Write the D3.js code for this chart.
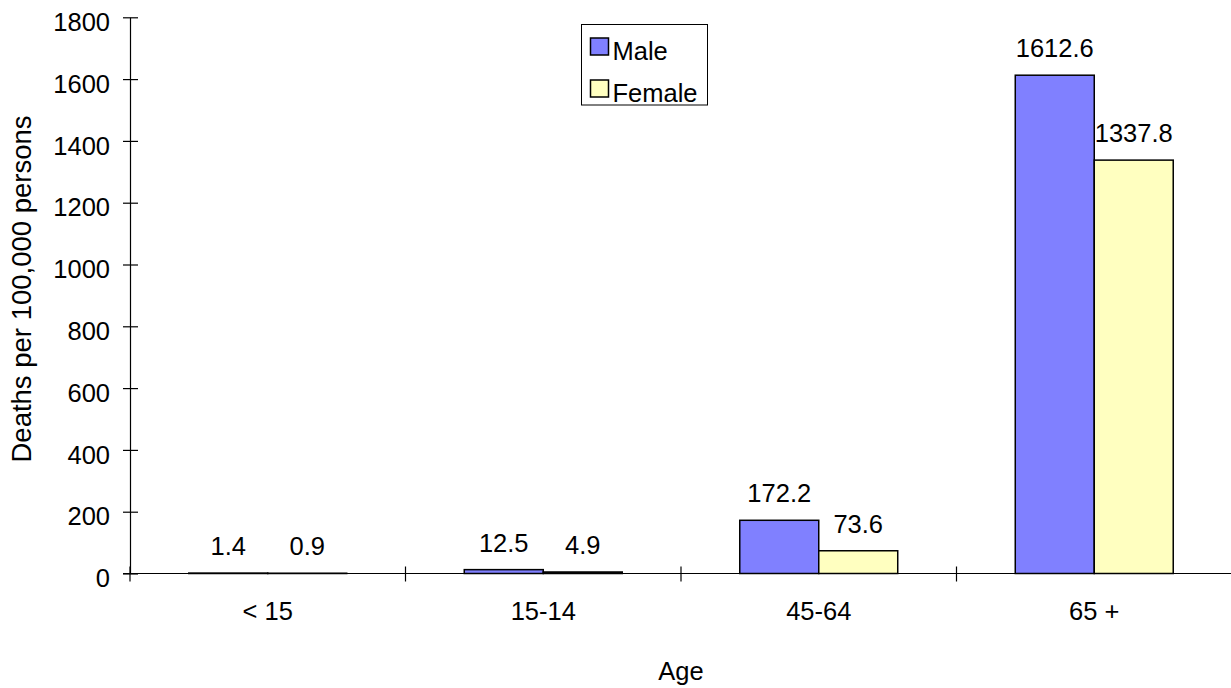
<!DOCTYPE html>
<html>
<head>
<meta charset="utf-8">
<script src="https://cdn.jsdelivr.net/npm/d3@7"></script>
<style>
  html, body { margin: 0; padding: 0; background: #fff; }
  svg { display: block; font-family: "Liberation Sans", Arial, sans-serif; }
</style>
</head>
<body>
<svg id="chart" width="1231" height="688"></svg>
<script>
// Death rates by age group and sex
const ageGroups = ["< 15", "15-14", "45-64", "65 +"];
const seriesNames = ["Male", "Female"];
const maleRates = [1.4, 12.5, 172.2, 1612.6];
const femaleRates = [0.9, 4.9, 73.6, 1337.8];
const yTicks = [0, 200, 400, 600, 800, 1000, 1200, 1400, 1600, 1800];
const seriesColors = ["#8080FF", "#FFFFC0"];

const rows = ageGroups.map((g, i) => ({ group: g, values: [maleRates[i], femaleRates[i]] }));

const svg = d3.select("#chart");
const fontSize = 25.5;
const plot = { left: 130, right: 1232, top: 17.3, bottom: 573.5 };

const x = d3.scaleBand().domain(ageGroups).range([plot.left, plot.right]).padding(0);
const xSub = d3.scaleBand().domain(seriesNames)
  .range([x.bandwidth() * 0.2133, x.bandwidth() * 0.7867]).padding(0);
const y = d3.scaleLinear().domain([0, 1800]).range([plot.bottom, plot.top]);

// Bars
const groups = svg.append("g").selectAll("g").data(rows).join("g")
  .attr("transform", d => `translate(${x(d.group)},0)`);

groups.selectAll("rect").data(d => d.values.map((v, k) => ({ name: seriesNames[k], value: v, k })))
  .join("rect")
  .attr("x", d => xSub(d.name))
  .attr("y", d => y(d.value))
  .attr("width", xSub.bandwidth())
  .attr("height", d => y(0) - y(d.value))
  .attr("fill", d => seriesColors[d.k])
  .attr("stroke", "#000")
  .attr("stroke-width", 1.5);

groups.selectAll("text.val").data(d => d.values.map((v, k) => ({ name: seriesNames[k], value: v })))
  .join("text")
  .attr("class", "val")
  .attr("x", d => xSub(d.name) + xSub.bandwidth() / 2)
  .attr("y", d => y(d.value) - 18)
  .attr("text-anchor", "middle")
  .attr("font-size", fontSize)
  .text(d => d.value.toFixed(1));

// Y axis
const yAxis = svg.append("g")
  .attr("transform", `translate(${plot.left},0)`)
  .call(d3.axisLeft(y).tickValues(yTicks).tickSize(0).tickPadding(20).tickFormat(d3.format("d")));
yAxis.select(".domain").attr("stroke", "#000").attr("stroke-width", 1.2);
yAxis.selectAll(".tick line").remove();
yAxis.selectAll(".tick").append("line")
  .attr("x1", -7).attr("x2", 8).attr("stroke", "#000").attr("stroke-width", 1.2);
yAxis.selectAll(".tick text")
  .attr("font-size", fontSize).attr("font-family", "Liberation Sans, Arial, sans-serif")
  .attr("fill", "#000").attr("dy", "0.52em");

// X axis
const xAxis = svg.append("g").attr("transform", `translate(0,${y(0)})`);
xAxis.append("line").attr("x1", plot.left - 7).attr("x2", plot.right)
  .attr("stroke", "#000").attr("stroke-width", 1.2);
const xBounds = ageGroups.map(g => x(g)).concat([x(ageGroups[ageGroups.length - 1]) + x.bandwidth()]);
xAxis.selectAll("line.tk").data(xBounds).join("line").attr("class", "tk")
  .attr("x1", d => d).attr("x2", d => d).attr("y1", -7).attr("y2", 8)
  .attr("stroke", "#000").attr("stroke-width", 1.2);
xAxis.selectAll("text").data(ageGroups).join("text")
  .attr("x", d => x(d) + x.bandwidth() / 2)
  .attr("y", 46.5)
  .attr("text-anchor", "middle")
  .attr("font-size", fontSize)
  .text(d => d);

// Axis titles
svg.append("text").attr("x", 681).attr("y", 680).attr("text-anchor", "middle")
  .attr("font-size", fontSize).text("Age");
svg.append("text")
  .attr("transform", `translate(31,289) rotate(-90)`)
  .attr("text-anchor", "middle").attr("font-size", 27.5)
  .text("Deaths per 100,000 persons");

// Legend
const legend = svg.append("g").attr("transform", "translate(581.5,24.5)");
legend.append("rect").attr("width", 126).attr("height", 80.5)
  .attr("fill", "#fff").attr("stroke", "#000").attr("stroke-width", 1);
seriesNames.forEach((name, k) => {
  const yy = 13.5 + k * 42;
  legend.append("rect").attr("x", 9).attr("y", yy).attr("width", 18).attr("height", 17)
    .attr("fill", seriesColors[k]).attr("stroke", "#000").attr("stroke-width", 1.5);
  legend.append("text").attr("x", 31).attr("y", yy + 22).attr("font-size", fontSize).text(name);
});
</script>
</body>
</html>
